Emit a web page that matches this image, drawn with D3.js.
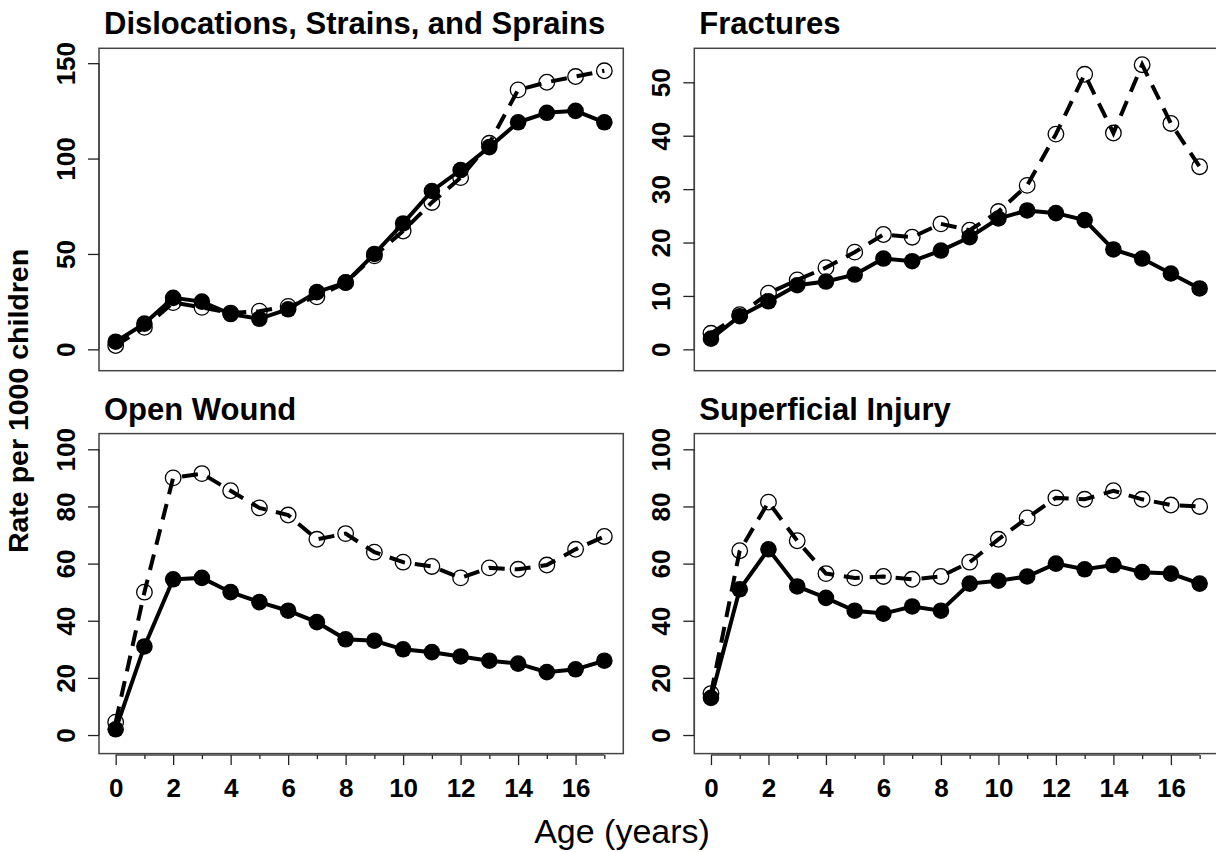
<!DOCTYPE html>
<html>
<head>
<meta charset="utf-8">
<script src="https://cdn.jsdelivr.net/npm/d3@7"></script>
<style>
  body { margin: 0; background: #fff; }
  svg { display: block; font-family: "Liberation Sans", Arial, sans-serif; }
</style>
</head>
<body>
<svg id="chart" width="1216" height="852"></svg>
<script>
// ages 0..17
const ages = d3.range(0, 18);

// panel titles
const titles = ["Dislocations, Strains, and Sprains", "Fractures", "Open Wound", "Superficial Injury"];

// filled circles, solid line
const dislocSolid = [4, 13.5, 27, 25, 18.5, 16, 21, 30, 35, 50, 66, 83, 94, 106, 119, 124, 125, 119];
const fractSolid = [2, 6.2, 9, 12, 12.7, 14, 17, 16.5, 18.5, 21, 24.5, 26, 25.5, 24.2, 18.7, 17, 14.2, 11.4];
const woundSolid = [2, 31, 54.5, 55, 50, 46.5, 43.5, 39.5, 33.5, 33, 30, 29, 27.5, 26, 25, 22, 23, 26];
const superSolid = [13, 51, 65, 52, 48, 43.5, 42.5, 45, 43.5, 53, 54, 55.5, 60, 58, 59.5, 57, 56.5, 53];

// open circles, dashed line
const dislocDashed = [2, 11.5, 24.5, 22, 19, 20, 22.5, 27.5, 35, 49, 62, 77, 90, 108, 136, 140, 143, 146];
const fractDashed = [3, 6.5, 10.5, 13, 15.3, 18.2, 21.5, 21, 23.5, 22.3, 25.8, 30.7, 40.3, 51.5, 40.5, 53.3, 42.3, 34.2];
const woundDashed = [4.5, 50, 90, 91.5, 85.5, 79.5, 77, 68.5, 70.5, 64, 60.5, 59, 55, 58.5, 58, 59.5, 65, 69.5];
const superDashed = [14.5, 64.5, 81.5, 68, 56.5, 55, 55.5, 54.5, 55.5, 60.5, 68.5, 76, 83, 82.5, 85.5, 82.5, 80.5, 80];

// y tick labels per panel
const yTicks = [[0, 50, 100, 150], [0, 10, 20, 30, 40, 50], [0, 20, 40, 60, 80, 100], [0, 20, 40, 60, 80, 100]];
const xTickLabels = [0, 2, 4, 6, 8, 10, 12, 14, 16];

const svg = d3.select("#chart");
const font = '"Liberation Sans", Arial, sans-serif';

// panel boxes (plot regions) and y ranges
const cols = [[99, 623.3], [694.3, 1218.6]];
const rows = [[48.3, 370.7], [433.6, 753.6]];
const yDomains = [[-11.2, 157.8], [-4.0, 56.37], [-6.5, 105.5], [-6.5, 105.5]];

const panels = [
  { solid: dislocSolid, dashed: dislocDashed },
  { solid: fractSolid, dashed: fractDashed },
  { solid: woundSolid, dashed: woundDashed },
  { solid: superSolid, dashed: superDashed }
];

panels.forEach((p, i) => {
  const col = cols[i % 2], row = rows[Math.floor(i / 2)];
  const x = d3.scaleLinear().domain([-0.58, 17.66]).range(col);
  const y = d3.scaleLinear().domain(yDomains[i]).range([row[1], row[0]]);
  const g = svg.append("g");

  // box
  g.append("rect")
    .attr("x", col[0]).attr("y", row[0])
    .attr("width", col[1] - col[0]).attr("height", row[1] - row[0])
    .attr("fill", "none").attr("stroke", "#444").attr("stroke-width", 1.5);

  // title
  g.append("text")
    .attr("x", col[0] + 5).attr("y", row[0] - 14)
    .attr("font-weight", "bold").attr("font-size", 31)
    .text(titles[i]);

  // y axis
  const yAxis = g.append("g")
    .attr("transform", `translate(${col[0]},0)`)
    .call(d3.axisLeft(y).tickValues(yTicks[i]).tickSize(11).tickPadding(0).tickFormat(d3.format("d")));
  yAxis.select(".domain").attr("stroke", "#444").attr("stroke-width", 1.5)
    .attr("d", `M0,${y(yTicks[i][0])}V${y(yTicks[i][yTicks[i].length - 1])}`);
  yAxis.selectAll(".tick line").attr("stroke", "#222").attr("stroke-width", 1.3);
  yAxis.selectAll(".tick text")
    .attr("x", null).attr("dy", null)
    .attr("transform", "translate(-24,0) rotate(-90)")
    .attr("text-anchor", "middle")
    .attr("font-family", font).attr("font-weight", "bold").attr("font-size", 26)
    .attr("fill", "#000");

  // x axis (bottom row only)
  if (i >= 2) {
    const xAxis = g.append("g")
      .attr("transform", `translate(0,${row[1] + 1.5})`)
      .call(d3.axisBottom(x).tickValues(ages).tickSize(10).tickPadding(13)
        .tickFormat(d => xTickLabels.includes(d) ? d : ""));
    xAxis.select(".domain").attr("stroke", "#444").attr("stroke-width", 1.5)
      .attr("d", `M${x(0)},0H${x(17)}`);
    xAxis.selectAll(".tick line").attr("stroke", "#222").attr("stroke-width", 1.3)
      .attr("y2", d => d % 2 === 0 ? 10 : 4);
    xAxis.selectAll(".tick text")
      .attr("font-family", font).attr("font-weight", "bold").attr("font-size", 26)
      .attr("fill", "#000");
  }

  const line = d3.line().x((d, j) => x(ages[j])).y(d => y(d));

  // dashed series with open circles
  g.append("path").datum(p.dashed)
    .attr("d", line).attr("fill", "none").attr("stroke", "#000")
    .attr("stroke-width", 4).attr("stroke-dasharray", "16,10");
  g.selectAll(".open").data(p.dashed).enter().append("circle")
    .attr("class", "open")
    .attr("cx", (d, j) => x(ages[j])).attr("cy", d => y(d))
    .attr("r", 7.8).attr("fill", "none").attr("stroke", "#000").attr("stroke-width", 1.3);

  // solid series with filled circles
  g.append("path").datum(p.solid)
    .attr("d", line).attr("fill", "none").attr("stroke", "#000")
    .attr("stroke-width", 4);
  g.selectAll(".filled").data(p.solid).enter().append("circle")
    .attr("class", "filled")
    .attr("cx", (d, j) => x(ages[j])).attr("cy", d => y(d))
    .attr("r", 8.3).attr("fill", "#000");
});

// shared axis titles
svg.append("text")
  .attr("transform", "translate(28,401) rotate(-90)")
  .attr("text-anchor", "middle")
  .attr("font-weight", "bold").attr("font-size", 28.5)
  .text("Rate per 1000 children");

svg.append("text")
  .attr("x", 622).attr("y", 843)
  .attr("text-anchor", "middle")
  .attr("font-size", 34)
  .text("Age (years)");
</script>
</body>
</html>
